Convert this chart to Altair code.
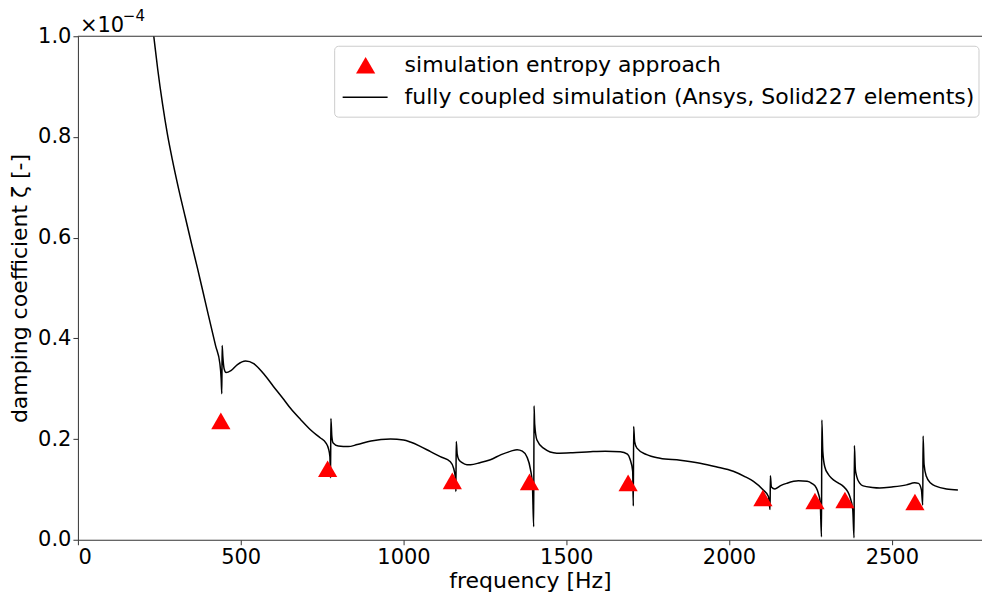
import altair as alt
import pandas as pd

# Fully coupled simulation: damping coefficient (x1e-4) versus frequency
freq_hz = [
    222, 233, 245, 260, 275, 290, 310, 330, 350, 367, 385, 400, 423, 436, 440,
    442, 443, 445, 449, 455, 470, 490, 515, 540, 570, 600, 633, 653, 685, 715,
    745, 761, 770, 774, 776, 777, 780, 784, 800, 830, 858, 900, 960, 1000,
    1021, 1050, 1083, 1113, 1144, 1154, 1160, 1161, 1162, 1165, 1170, 1180,
    1195, 1206, 1235, 1267, 1300, 1330, 1349, 1365, 1379, 1390, 1396, 1400,
    1401, 1403, 1410, 1430, 1471, 1520, 1574, 1620, 1666, 1688, 1696, 1704,
    1706, 1707, 1710, 1717, 1747, 1788, 1850, 1911, 1960, 2013, 2050, 2075,
    2105, 2121, 2126, 2127, 2130, 2141, 2160, 2177, 2213, 2240, 2254, 2268,
    2274, 2280, 2284, 2285, 2288, 2294, 2305, 2315, 2335, 2351, 2365, 2371,
    2380, 2384, 2385, 2388, 2392, 2402, 2412, 2440, 2463, 2500, 2545, 2570,
    2582, 2591, 2595, 2596, 2599, 2606, 2620, 2637, 2668, 2703,
]
zeta_coupled = [
    1.06, 1.00, 0.935, 0.865, 0.805, 0.755, 0.695, 0.640, 0.585, 0.540,
    0.490, 0.448, 0.385, 0.350, 0.320, 0.290, 0.386, 0.365, 0.340, 0.332,
    0.336, 0.348, 0.355, 0.350, 0.330, 0.305, 0.278, 0.261, 0.238, 0.218,
    0.202, 0.193, 0.180, 0.165, 0.123, 0.241, 0.205, 0.192, 0.186, 0.185,
    0.189, 0.196, 0.200, 0.198, 0.194, 0.186, 0.175, 0.165, 0.155, 0.142,
    0.120, 0.096, 0.195, 0.170, 0.159, 0.153, 0.149, 0.149, 0.153, 0.159,
    0.169, 0.176, 0.179, 0.176, 0.165, 0.140, 0.110, 0.026, 0.266, 0.230,
    0.198, 0.182, 0.172, 0.173, 0.175, 0.176, 0.175, 0.170, 0.160, 0.136,
    0.067, 0.225, 0.195, 0.182, 0.169, 0.162, 0.158, 0.152, 0.145, 0.136,
    0.125, 0.116, 0.099, 0.086, 0.060, 0.127, 0.105, 0.101, 0.108, 0.112,
    0.117, 0.116, 0.112, 0.103, 0.093, 0.075, 0.006, 0.238, 0.175, 0.145,
    0.130, 0.122, 0.113, 0.106, 0.095, 0.086, 0.060, 0.004, 0.187, 0.140,
    0.126, 0.112, 0.107, 0.104, 0.103, 0.105, 0.109, 0.113, 0.112, 0.099,
    0.069, 0.206, 0.150, 0.126, 0.112, 0.106, 0.101, 0.099,
]

# Entropy-approach simulation results
entropy_freq_hz = [439, 767, 1150, 1387, 1690, 2104, 2264, 2356, 2571]
entropy_zeta = [0.236, 0.141, 0.117, 0.115, 0.113, 0.083, 0.077, 0.079, 0.075]

x_ticks = [0, 500, 1000, 1500, 2000, 2500]
y_ticks = [0.0, 0.2, 0.4, 0.6, 0.8, 1.0]

legend_labels = [
    "simulation entropy approach",
    "fully coupled simulation (Ansys, Solid227 elements)",
]

FONT = "DejaVu Sans"
W, H = 905, 504

coupled_df = pd.DataFrame({"freq": freq_hz, "zeta": zeta_coupled})
entropy_df = pd.DataFrame({"freq": entropy_freq_hz, "zeta": entropy_zeta})

x_scale = alt.Scale(domain=[0, 2777], nice=False, zero=False)
y_scale = alt.Scale(domain=[0, 1.0], nice=False)

x_axis = alt.Axis(values=x_ticks, title="frequency [Hz]", format="d")
y_axis = alt.Axis(values=y_ticks, title="damping coefficient ζ [-]", format=".1f")

line = alt.Chart(coupled_df).mark_line(
    color="black", strokeWidth=1.5, clip=True, interpolate="monotone"
).encode(
    x=alt.X("freq:Q", scale=x_scale, axis=x_axis),
    y=alt.Y("zeta:Q", scale=y_scale, axis=y_axis),
    order="freq:Q",
)

points = alt.Chart(entropy_df).mark_point(
    shape="triangle-up", filled=True, color="#ff0000", size=370, opacity=1
).encode(
    x=alt.X("freq:Q", scale=x_scale),
    y=alt.Y("zeta:Q", scale=y_scale),
)

blank = alt.Data(values=[{}])

# top spine
top_spine = alt.Chart(blank).mark_rule(color="#333", strokeWidth=1).encode(
    x=alt.value(0), x2=alt.value(W), y=alt.value(0)
)

# offset multiplier above the y axis
sci_base = alt.Chart(blank).mark_text(
    text="×10", font=FONT, fontSize=21, align="left", baseline="alphabetic", color="black"
).encode(x=alt.value(2), y=alt.value(-4))
sci_exp = alt.Chart(blank).mark_text(
    text="−4", font=FONT, fontSize=15, align="left", baseline="alphabetic", color="black"
).encode(x=alt.value(45), y=alt.value(-15))

# legend
legend_box = alt.Chart(blank).mark_rect(
    fill="white", fillOpacity=0.8, stroke="#cccccc", strokeWidth=1, cornerRadius=4
).encode(x=alt.value(257), x2=alt.value(902), y=alt.value(10), y2=alt.value(81))
legend_tri = alt.Chart(blank).mark_point(
    shape="triangle-up", filled=True, color="#ff0000", size=370, opacity=1
).encode(x=alt.value(288), y=alt.value(29))
legend_line = alt.Chart(blank).mark_rule(color="black", strokeWidth=1.5).encode(
    x=alt.value(265), x2=alt.value(310), y=alt.value(61)
)
legend_text1 = alt.Chart(blank).mark_text(
    text=legend_labels[0], font=FONT, fontSize=22, align="left", baseline="middle", color="black"
).encode(x=alt.value(327), y=alt.value(29))
legend_text2 = alt.Chart(blank).mark_text(
    text=legend_labels[1], font=FONT, fontSize=22, align="left", baseline="middle", color="black"
).encode(x=alt.value(327), y=alt.value(61))

chart = alt.layer(
    line, points, top_spine, sci_base, sci_exp,
    legend_box, legend_tri, legend_line, legend_text1, legend_text2,
).properties(
    width=W,
    height=H,
    autosize=alt.AutoSizeParams(type="none"),
    padding={"left": 78, "top": 36, "right": 0, "bottom": 52},
    background="white",
).configure_view(
    stroke=None
).configure_axis(
    labelFont=FONT,
    labelFontSize=21,
    labelColor="black",
    titleFont=FONT,
    titleFontSize=22,
    titleFontWeight="normal",
    titleColor="black",
    grid=False,
    domainColor="#333",
    domainWidth=1,
    tickColor="#333",
    tickSize=5,
    tickWidth=1,
    labelPadding=2,
).configure_axisX(
    titlePadding=3,
).configure_axisY(
    titlePadding=6,
)

chart.save("out.html", embed_options={"renderer": "svg", "actions": False})
